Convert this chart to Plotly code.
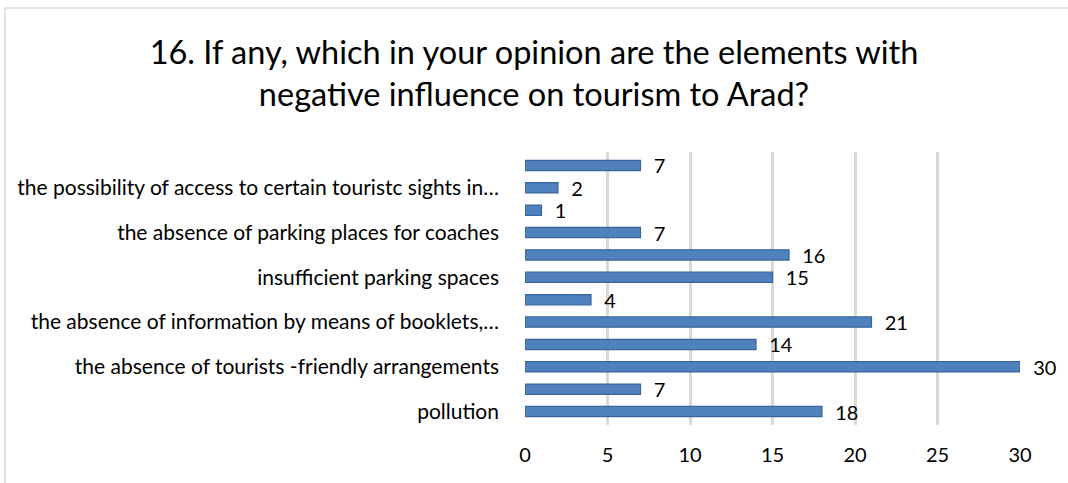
import plotly.graph_objects as go

# Survey answers, bottom to top; only every other category name is printed on the axis
labels = [
    "pollution", "", "the absence of tourists -friendly arrangements", "",
    "the absence of information by means of booklets,…", "",
    "insufficient parking spaces", "", "the absence of parking places for coaches", "",
    "the possibility of access to certain touristc sights in…", "",
]
values = [18, 7, 30, 14, 21, 4, 15, 16, 7, 1, 2, 7]
x_ticks = [0, 5, 10, 15, 20, 25, 30]

positions = list(range(len(values)))

W, H = 1068, 483
ML, MR, MT, MB = 525, 48, 152, 58
pw, ph = W - ML - MR, H - MT - MB

fig = go.Figure()
fig.add_trace(go.Bar(
    x=values, y=positions, orientation="h",
    marker=dict(color="#4F81BD", line=dict(color="#3A659A", width=1.2)),
    text=[str(v) for v in values], texttemplate="\u00a0\u00a0%{text}",
    textposition="outside",
    textfont=dict(family="Lato", size=20, color="#000000"),
    constraintext="none", cliponaxis=False, width=0.46,
))

fig.update_layout(
    width=W, height=H,
    margin=dict(l=ML, r=MR, t=MT, b=MB),
    paper_bgcolor="white", plot_bgcolor="white",
    showlegend=False,
    title=dict(
        text="16. If any, which in your opinion are the elements with<br>negative influence on tourism to Arad?",
        x=0.5, xanchor="center", y=0.867, yanchor="top",
        font=dict(family="Lato", size=32.5, color="#000000"),
    ),
    xaxis=dict(
        range=[0, 30], tickvals=x_ticks, ticktext=[str(t) for t in x_ticks],
        showgrid=True, gridcolor="#D9D9D9", gridwidth=2.5,
        zeroline=False, showline=False, ticks="",
        tickfont=dict(family="Lato", size=20, color="#000000"),
        ticklabelstandoff=16,
    ),
    yaxis=dict(
        range=[-0.6, len(values) - 0.4],
        tickvals=positions, ticktext=labels,
        showgrid=False, zeroline=False, showline=False, ticks="",
        tickfont=dict(family="Lato", size=21, color="#000000"),
        ticklabelstandoff=25,
    ),
    shapes=[dict(
        type="rect", xref="paper", yref="paper",
        x0=(5 - ML) / pw, x1=(W + 5 - ML) / pw,
        y0=(MT + ph - H - 10) / ph, y1=(MT + ph - 8) / ph,
        line=dict(color="#D9D9D9", width=1.5), fillcolor="rgba(0,0,0,0)", layer="below",
    )],
)

fig.write_html("out.html")
